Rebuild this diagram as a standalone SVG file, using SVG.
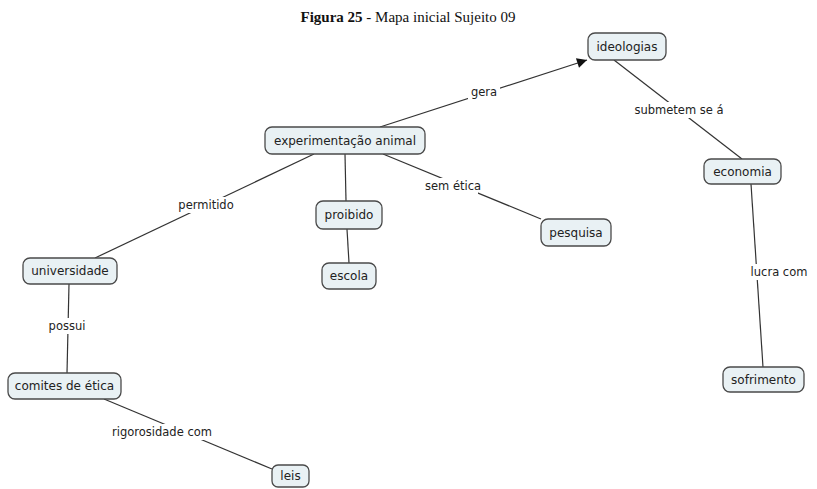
<svg xmlns="http://www.w3.org/2000/svg" width="817" height="489" viewBox="0 0 817 489">
  <style>
    .node rect { fill: #e9f1f4; stroke: #4a4a4a; stroke-width: 1.3; }
    .node text { font-family: "DejaVu Sans", Verdana, sans-serif; font-size: 12px; fill: #222; text-anchor: middle; dominant-baseline: central; }
    .edge { stroke: #333; stroke-width: 1.2; fill: none; }
    .lbl-bg { fill: #fff; }
    .lbl { font-family: "DejaVu Sans", Verdana, sans-serif; font-size: 11.5px; fill: #222; text-anchor: middle; dominant-baseline: central; }
    .title { font-family: "Liberation Serif", "DejaVu Serif", serif; font-size: 15px; fill: #111; text-anchor: middle; }
  </style>
  <defs>
    <marker id="arrow" viewBox="0 0 10 10" refX="10" refY="5" markerWidth="12" markerHeight="10" markerUnits="userSpaceOnUse" orient="auto">
      <path d="M0,0 L10,5 L0,10 z" fill="#111"/>
    </marker>
  </defs>
  <rect width="817" height="489" fill="#fff"/>

  <text class="title" x="408" y="22"><tspan font-weight="bold">Figura 25</tspan> - Mapa inicial Sujeito 09</text>

  <g id="connectors">
    <line class="edge" x1="380" y1="127" x2="587" y2="60" marker-end="url(#arrow)"/>
    <line class="edge" x1="614" y1="60" x2="742" y2="159"/>
    <line class="edge" x1="751" y1="184" x2="763" y2="367"/>
    <line class="edge" x1="314" y1="154" x2="95" y2="258"/>
    <line class="edge" x1="345" y1="154" x2="346" y2="201"/>
    <line class="edge" x1="347" y1="229" x2="349" y2="263"/>
    <line class="edge" x1="383" y1="154" x2="541" y2="219"/>
    <line class="edge" x1="69" y1="284" x2="67" y2="373"/>
    <line class="edge" x1="104" y1="399" x2="272" y2="469"/>

    <rect class="lbl-bg" x="468" y="84" width="32" height="16"/>
    <text class="lbl" x="484" y="92">gera</text>
    <rect class="lbl-bg" x="636" y="102" width="86" height="16"/>
    <text class="lbl" x="679" y="110">submetem se á</text>
    <rect class="lbl-bg" x="749" y="264" width="60" height="16"/>
    <text class="lbl" x="779" y="272">lucra com</text>
    <rect class="lbl-bg" x="175" y="197" width="62" height="16"/>
    <text class="lbl" x="206" y="205">permitido</text>
    <rect class="lbl-bg" x="428" y="178" width="50" height="16"/>
    <text class="lbl" x="453" y="186">sem ética</text>
    <rect class="lbl-bg" x="46" y="318" width="43" height="16"/>
    <text class="lbl" x="67" y="326">possui</text>
    <rect class="lbl-bg" x="110" y="424" width="104" height="16"/>
    <text class="lbl" x="162" y="432">rigorosidade com</text>
  </g>

  <g id="node-ideologias" class="node">
    <rect x="588" y="33" width="78" height="27" rx="7"/>
    <text x="627" y="46.5">ideologias</text>
  </g>
  <g id="node-experimentacao" class="node">
    <rect x="265" y="127" width="160" height="27" rx="7"/>
    <text x="345" y="140.5">experimentação animal</text>
  </g>
  <g id="node-economia" class="node">
    <rect x="704" y="159" width="77" height="25" rx="7"/>
    <text x="742.5" y="171.5">economia</text>
  </g>
  <g id="node-proibido" class="node">
    <rect x="316" y="201" width="66" height="28" rx="7"/>
    <text x="349" y="215">proibido</text>
  </g>
  <g id="node-pesquisa" class="node">
    <rect x="541" y="219" width="70" height="27" rx="7"/>
    <text x="576" y="232.5">pesquisa</text>
  </g>
  <g id="node-universidade" class="node">
    <rect x="23" y="258" width="94" height="26" rx="7"/>
    <text x="70" y="271">universidade</text>
  </g>
  <g id="node-escola" class="node">
    <rect x="322" y="263" width="54" height="26" rx="7"/>
    <text x="349" y="276">escola</text>
  </g>
  <g id="node-sofrimento" class="node">
    <rect x="723" y="367" width="81" height="25" rx="7"/>
    <text x="763.5" y="379.5">sofrimento</text>
  </g>
  <g id="node-comites" class="node">
    <rect x="8" y="373" width="113" height="26" rx="7"/>
    <text x="64.5" y="386">comites de ética</text>
  </g>
  <g id="node-leis" class="node">
    <rect x="272" y="465" width="37" height="22" rx="6"/>
    <text x="290.5" y="476">leis</text>
  </g>
</svg>
